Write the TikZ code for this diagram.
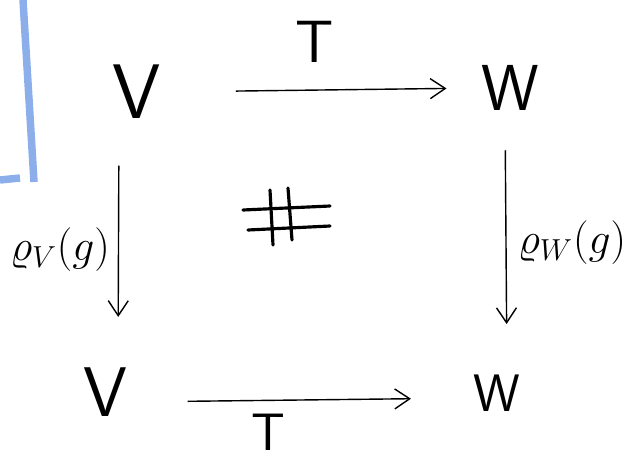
\documentclass[tikz,border=0pt]{standalone}
\usetikzlibrary{arrows.meta}
\definecolor{scanblue}{RGB}{140,175,235}
\tikzset{obj/.style={inner sep=0pt,font=\sffamily}}
\begin{document}
\begin{tikzpicture}[x=0.02cm,y=-0.02cm,line width=0.8pt,
  >={Straight Barb[length=3mm,width=4mm]}]
\useasboundingbox (0,0) rectangle (636,460);
% blue mark of the scan
\draw[scanblue,line width=0.15cm] (23,0) -- (34,182);
\draw[scanblue,line width=0.15cm] (0,180) -- (20,178);

\node[obj,font=\fontsize{44}{44}\sffamily] (vtop) at (137,92) {V};
\node[obj,font=\fontsize{37}{37}\sffamily] (wtop) at (510,88) {W};
\node[obj,font=\fontsize{40}{40}\sffamily] (vbot) at (105,392) {V};
\node[obj,font=\fontsize{30}{30}\sffamily] (wbot) at (497,393) {W};

\node[obj,font=\fontsize{34}{34}\sffamily] (ttop) at (315,42) {T};
\node[obj,font=\fontsize{30}{30}\sffamily,anchor=north] (tbot) at (268,413) {T};
\node[obj,font=\fontsize{25}{25}\selectfont] (rhov) at (60,250) {$\varrho_V(g)$};
\node[obj,font=\fontsize{24}{24}\selectfont] (rhow) at (572,243) {$\varrho_W(g)$};

\draw[->,shorten <=1.48cm,shorten >=0.68cm] (vtop.east) -- (wtop.west);
\draw[->,shorten <=1.2cm,shorten >=1.24cm] ([yshift=-0.2cm]vbot.east) -- ([yshift=-0.1cm]wbot.west);
\draw[->,shorten <=0.92cm,shorten >=1.0cm] ([xshift=-0.36cm]vtop.south) -- ([xshift=0.26cm]vbot.north);
\draw[->,shorten <=0.78cm,shorten >=1.0cm] ([xshift=-0.1cm]wtop.south) -- ([xshift=0.2cm]wbot.north);

% commutes
\draw[line width=1.8pt,line cap=round] (243,210) -- (330,206);
\draw[line width=1.8pt,line cap=round] (248,230) -- (330,226);
\draw[line width=1.8pt,line cap=round] (270,190) -- (273,245);
\draw[line width=1.8pt,line cap=round] (288,188) -- (292,240);
\end{tikzpicture}
\end{document}
